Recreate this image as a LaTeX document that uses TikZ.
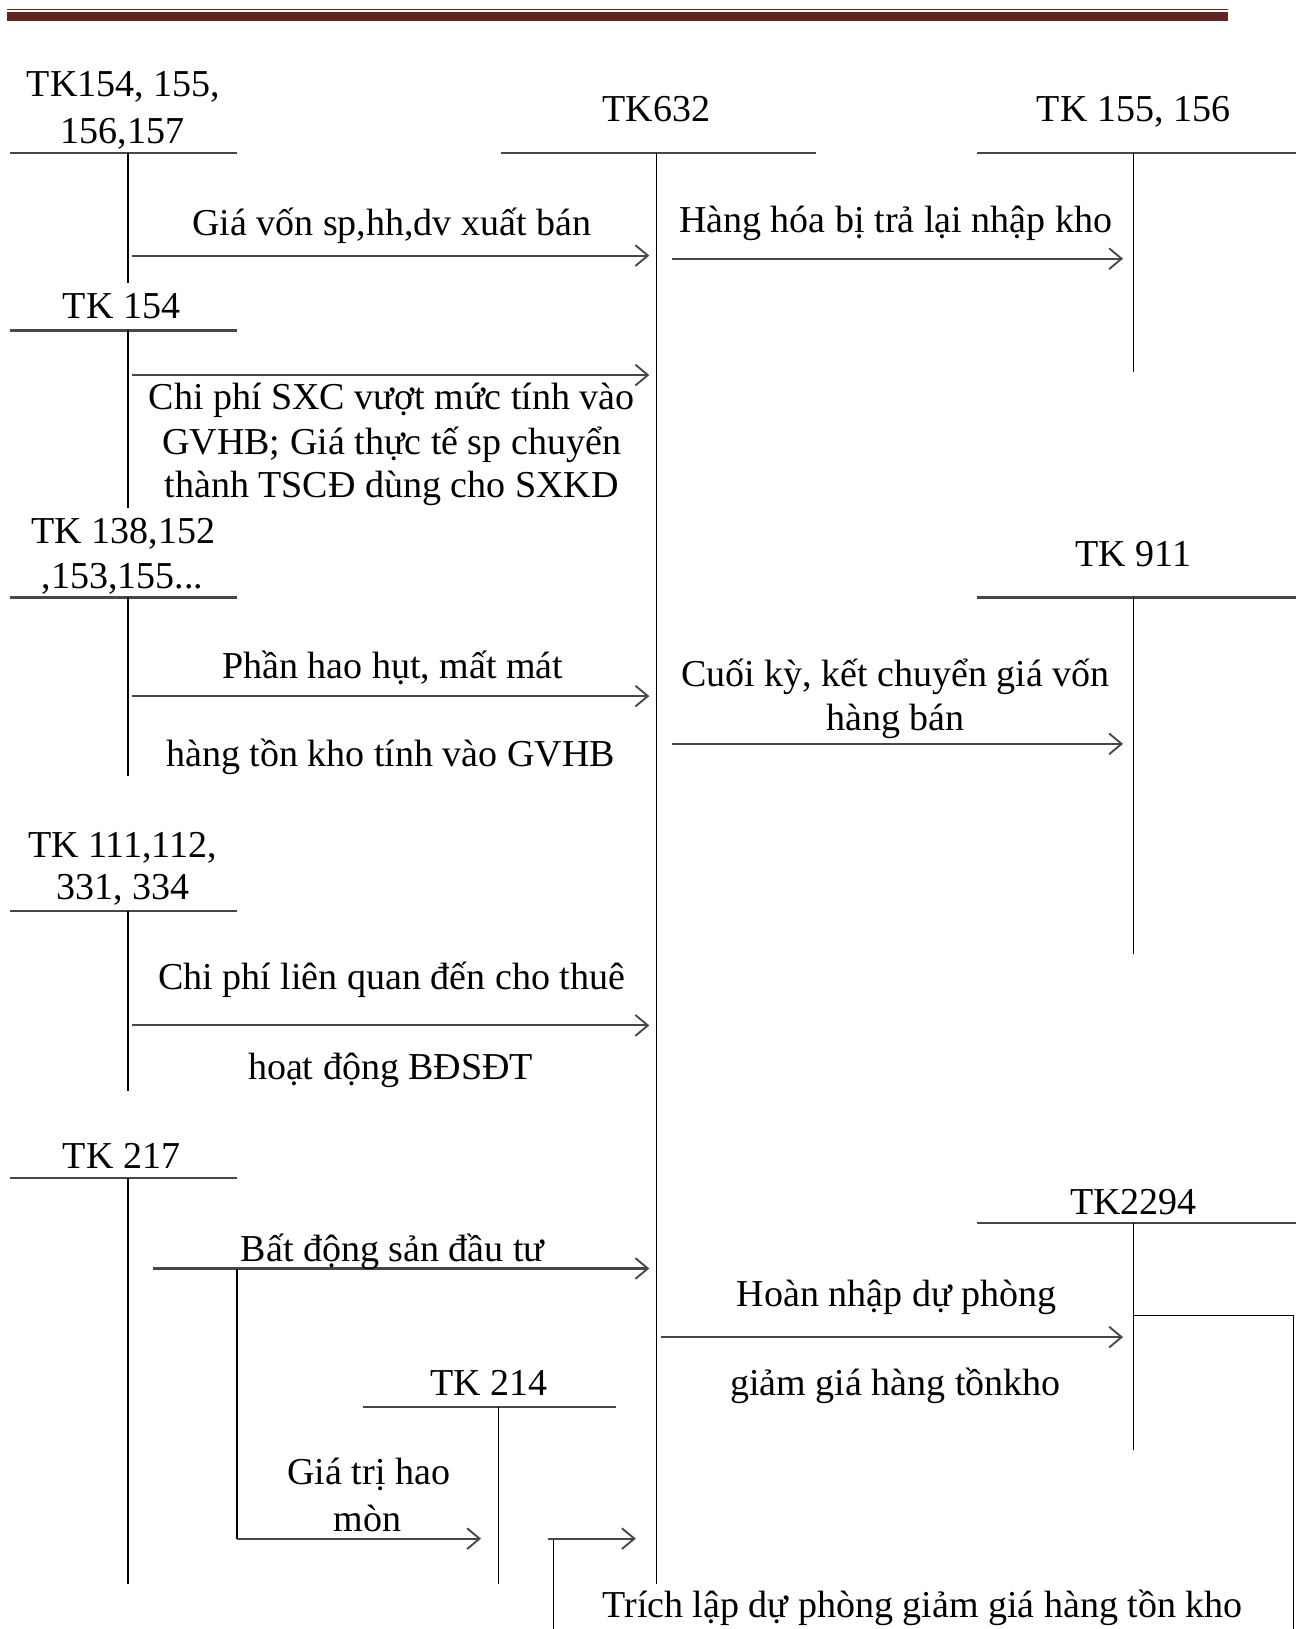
\documentclass[tikz,border=0pt]{standalone}
\usepackage{fontspec}
\setmainfont{Liberation Serif}
\usetikzlibrary{arrows.meta}
\definecolor{hdr}{HTML}{622423}
\begin{document}
\begin{tikzpicture}[x=0.5pt,y=-0.5pt,
  lbl/.style={anchor=base,inner sep=0pt,font=\fontsize{18.3}{22}\selectfont},
  hline/.style={line width=1.1pt,draw=black!72},
  vline/.style={line width=0.7pt,draw=black},
  arr/.style={line width=1pt,draw=black!72,-{Straight Barb[length=6pt,width=10pt,line width=0.9pt]}},
  conn/.style={line width=0.7pt,draw=black}]
\useasboundingbox (0,0) rectangle (1253,1568);
\fill[white] (0,0) rectangle (1253,1568);
% header rule
\fill[hdr] (7,8.2) rectangle (1182,9.9);
\fill[hdr] (7,11.8) rectangle (1182,20);

% ---------- T accounts ----------
% TK154,155,156,157
\node[lbl] (l1a) at (119,93) {TK154, 155,};
\node[lbl] (l1b) at (118,138) {156,157};
\coordinate (a1l) at (10,147); \coordinate (a1r) at (228,147);
\coordinate (a1t) at (123,147); \coordinate (a1b) at (123,272);
\draw[hline] (a1l) -- (a1r); \draw[vline] (a1t) -- (a1b);
% TK632
\node[lbl] (l2) at (632,117) {TK632};
\coordinate (a2l) at (482,147); \coordinate (a2r) at (785,147);
\coordinate (a2t) at (632,147); \coordinate (a2b) at (632,1525);
\draw[hline] (a2l) -- (a2r); \draw[vline] (a2t) -- (a2b);
% TK155,156
\node[lbl] (l3) at (1091,117) {TK 155, 156};
\coordinate (a3l) at (940,147); \coordinate (a3r) at (1247,147);
\coordinate (a3t) at (1091,147); \coordinate (a3b) at (1091,358);
\draw[hline] (a3l) -- (a3r); \draw[vline] (a3t) -- (a3b);
% TK154
\node[lbl] (l4) at (117,307) {TK 154};
\coordinate (a4l) at (10,318); \coordinate (a4r) at (228,318);
\coordinate (a4t) at (123,318); \coordinate (a4b) at (123,489);
\draw[hline] (a4l) -- (a4r); \draw[vline] (a4t) -- (a4b);
% TK138,...
\node[lbl] (l5a) at (119,523) {TK 138,152};
\node[lbl] (l5b) at (118,566) {,153,155...};
\coordinate (a5l) at (10,575); \coordinate (a5r) at (228,575);
\coordinate (a5t) at (123,575); \coordinate (a5b) at (123,747);
\draw[hline] (a5l) -- (a5r); \draw[vline] (a5t) -- (a5b);
% TK911
\node[lbl] (l6) at (1091,545) {TK 911};
\coordinate (a6l) at (940,575); \coordinate (a6r) at (1247,575);
\coordinate (a6t) at (1091,575); \coordinate (a6b) at (1091,918);
\draw[hline] (a6l) -- (a6r); \draw[vline] (a6t) -- (a6b);
% TK111,...
\node[lbl] (l7a) at (118,825) {TK 111,112,};
\node[lbl] (l7b) at (118,866) {331, 334};
\coordinate (a7l) at (10,877); \coordinate (a7r) at (228,877);
\coordinate (a7t) at (123,877); \coordinate (a7b) at (123,1050);
\draw[hline] (a7l) -- (a7r); \draw[vline] (a7t) -- (a7b);
% TK217
\node[lbl] (l8) at (117,1125) {TK 217};
\coordinate (a8l) at (10,1134); \coordinate (a8r) at (228,1134);
\coordinate (a8t) at (123,1134); \coordinate (a8b) at (123,1525);
\draw[hline] (a8l) -- (a8r); \draw[vline] (a8t) -- (a8b);
% TK2294
\node[lbl] (l9) at (1091,1169) {TK2294};
\coordinate (a9l) at (940,1177); \coordinate (a9r) at (1247,1177);
\coordinate (a9t) at (1091,1177); \coordinate (a9b) at (1091,1396);
\draw[hline] (a9l) -- (a9r); \draw[vline] (a9t) -- (a9b);
% TK214
\node[lbl] (l10) at (471,1343) {TK 214};
\coordinate (a10l) at (349,1354); \coordinate (a10r) at (593,1354);
\coordinate (a10t) at (480,1354); \coordinate (a10b) at (480,1525);
\draw[hline] (a10l) -- (a10r); \draw[vline] (a10t) -- (a10b);

% ---------- arrows ----------
\coordinate (s1) at (127,246); \coordinate (e1) at (625,246);
\draw[arr] (s1) -- (e1);
\node[lbl] (t1) at (377,227) {Giá vốn sp,hh,dv xuất bán};

\coordinate (s2) at (647,249); \coordinate (e2) at (1081,249);
\draw[arr] (s2) -- (e2);
\node[lbl] (t2) at (862,224) {Hàng hóa bị trả lại nhập kho};

\coordinate (s3) at (127,361); \coordinate (e3) at (625,361);
\draw[arr] (s3) -- (e3);
\node[lbl] (t3a) at (377,394) {Chi phí SXC vượt mức tính vào};
\node[lbl] (t3b) at (377,437) {GVHB; Giá thực tế sp chuyển};
\node[lbl] (t3c) at (377,479) {thành TSCĐ dùng cho SXKD};

\coordinate (s4) at (127,670); \coordinate (e4) at (625,670);
\draw[arr] (s4) -- (e4);
\node[lbl] (t4a) at (378,653) {Phần hao hụt, mất mát};
\node[lbl] (t4b) at (376,738) {hàng tồn kho tính vào GVHB};

\coordinate (s5) at (647,716); \coordinate (e5) at (1081,716);
\draw[arr] (s5) -- (e5);
\node[lbl] (t5a) at (862,661) {Cuối kỳ, kết chuyển giá vốn};
\node[lbl] (t5b) at (862,703) {hàng bán};

\coordinate (s6) at (127,987); \coordinate (e6) at (625,987);
\draw[arr] (s6) -- (e6);
\node[lbl] (t6a) at (377,952) {Chi phí liên quan đến cho thuê};
\node[lbl] (t6b) at (376,1039) {hoạt động BĐSĐT};

\coordinate (s7) at (147,1221); \coordinate (e7) at (625,1221);
\draw[arr] (s7) -- (e7);
\node[lbl] (t7) at (378,1214) {Bất động sản đầu tư};

\coordinate (b7) at (228,1221); \coordinate (b7d) at (228,1481); \coordinate (e8) at (463,1481);
\draw[conn] (b7) -- (b7d);
\draw[arr] (b7d) -- (e8);
\node[lbl] (t8a) at (355,1429) {Giá trị hao};
\node[lbl] (t8b) at (354,1474) {mòn};

\coordinate (s9) at (636,1287); \coordinate (e9) at (1081,1287);
\draw[arr] (s9) -- (e9);
\node[lbl] (t9a) at (863,1258) {Hoàn nhập dự phòng};
\node[lbl] (t9b) at (862,1343) {giảm giá hàng tồnkho};

% reversal loop (cut off at the bottom edge)
\coordinate (r1) at (1091,1266); \coordinate (r2) at (1245,1266); \coordinate (r3) at (1245,1568);
\draw[conn] (r1) -- (r2) -- (r3);
\coordinate (q1) at (533,1568); \coordinate (q2) at (533,1481); \coordinate (q0) at (527,1481); \coordinate (q3) at (612,1481);
\draw[conn] (q1) -- (q2);
\draw[arr] (q0) -- (q3);
\node[lbl] (t10) at (888,1557) {Trích lập dự phòng giảm giá hàng tồn kho};
\end{tikzpicture}
\end{document}
